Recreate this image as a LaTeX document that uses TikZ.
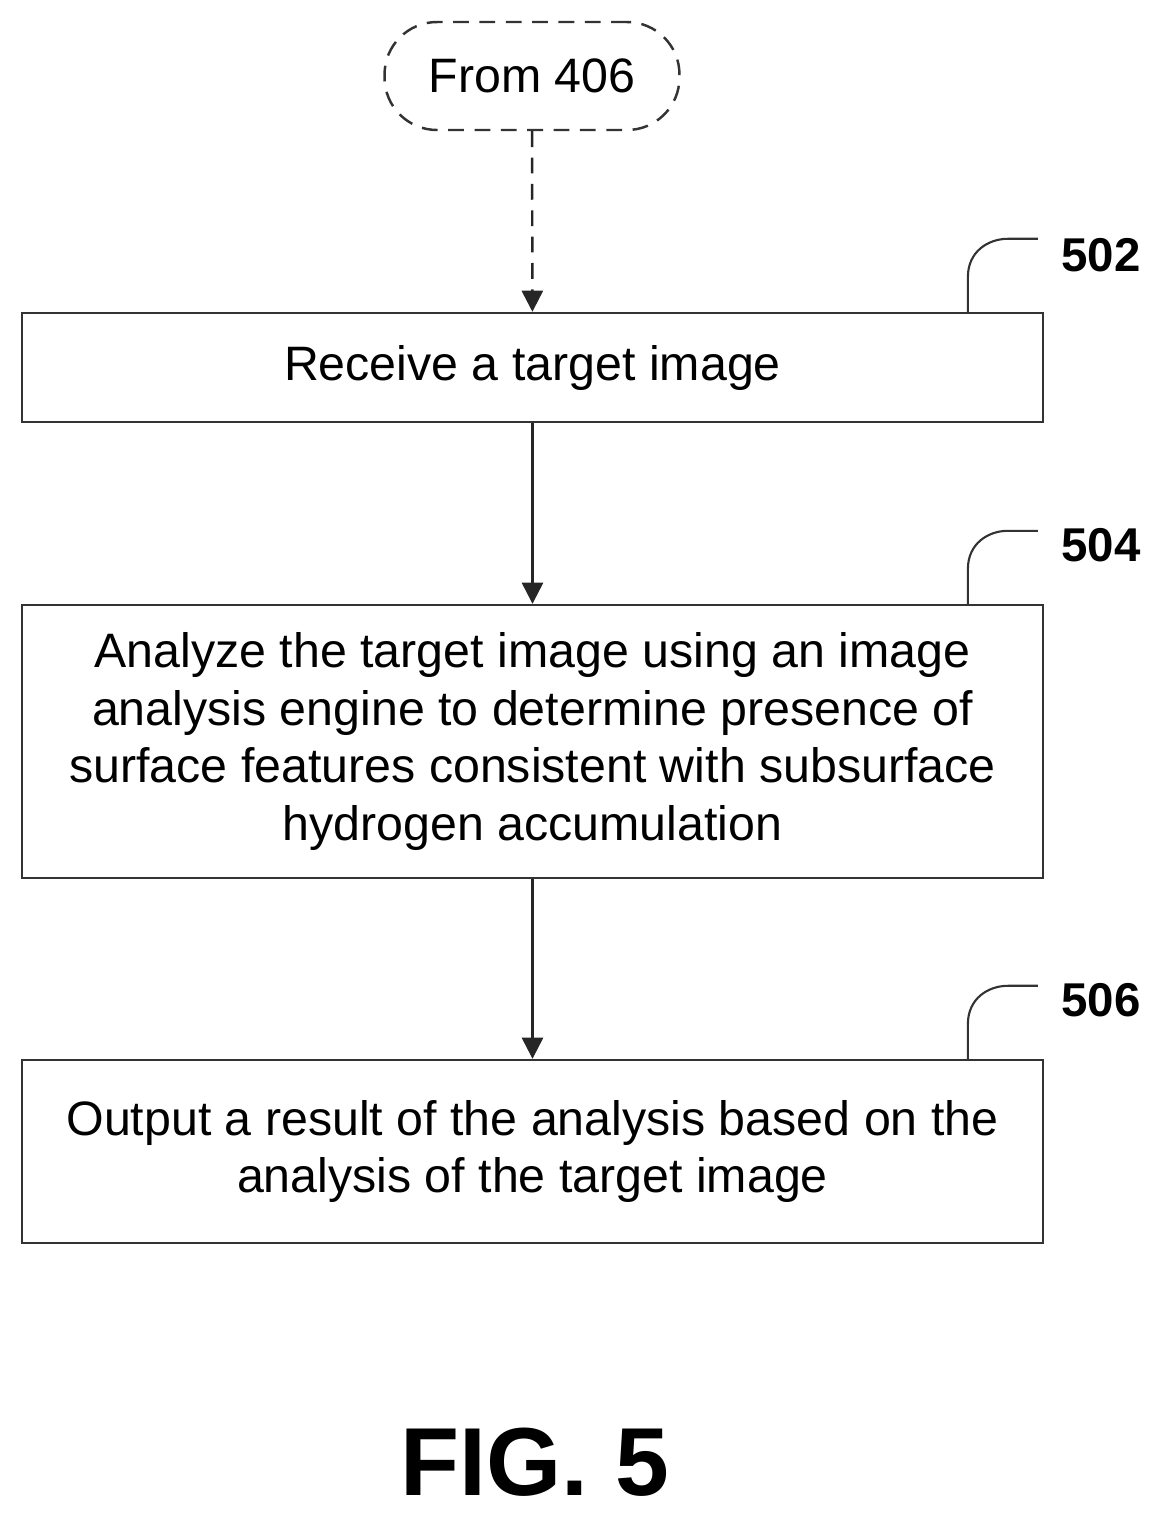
\documentclass[tikz,border=0pt]{standalone}
\usepackage{fontspec}
\setmainfont{Liberation Sans}
\usetikzlibrary{positioning,arrows.meta}
\begin{document}
\begin{tikzpicture}[x=0.02cm,y=-0.02cm,
        stepbox/.style={draw=black!80, line width=1.4pt, minimum width=20.42cm, align=center,
            font=\fontsize{27.5}{33}\selectfont, inner sep=0pt},
        startnode/.style={draw=black!80, line width=1.4pt, dashed, dash pattern=on 9pt off 6pt,
            rounded corners=1.05cm, minimum width=5.9cm, minimum height=2.16cm,
            font=\fontsize{27.5}{33}\selectfont},
        reflabel/.style={font=\fontsize{27}{30}\bfseries\selectfont},
        flow/.style={-{Triangle[length=12pt,width=12pt]}, line width=1.4pt, black!85}]
        \useasboundingbox (0,0) rectangle (1162,1519);
        \node[startnode] (from) at (532,76) {From 406};
        \node[stepbox, minimum height=2.18cm] (receive) at (532.5,367.5) {Receive a target image};
        \node[stepbox, minimum height=5.46cm] (analyze) at (532.5,741.5)
            {Analyze the target image using an image\\ analysis engine to determine presence of\\
             surface features consistent with subsurface\\ hydrogen accumulation};
        \node[stepbox, minimum height=3.66cm] (output) at (532.5,1151.5)
            {Output a result of the analysis based on the\\ analysis of the target image};
        \node[reflabel] (ref502) at (1101,255) {502};
        \node[reflabel] (ref504) at (1101,545) {504};
        \node[reflabel] (ref506) at (1101,1000) {506};
        % leaders
        \foreach \stepname in {receive, analyze, output}{
            \draw[line width=1.2pt, black!80] ([xshift=8.71cm]\stepname.north) -- ++(0,-35)
                .. controls ++(0,-25) and ++(-20,0) .. ++(40,-38) -- ++(30,0);
        }
        \draw[flow, dashed, dash pattern=on 9pt off 6pt] (from) -- (receive);
        \draw[flow] (receive) -- (analyze);
        \draw[flow] (analyze) -- (output);
        \node[font=\fontsize{55}{60}\bfseries\selectfont] (figlabel) at (535,1462) {FIG. 5};
\end{tikzpicture}
\end{document}
